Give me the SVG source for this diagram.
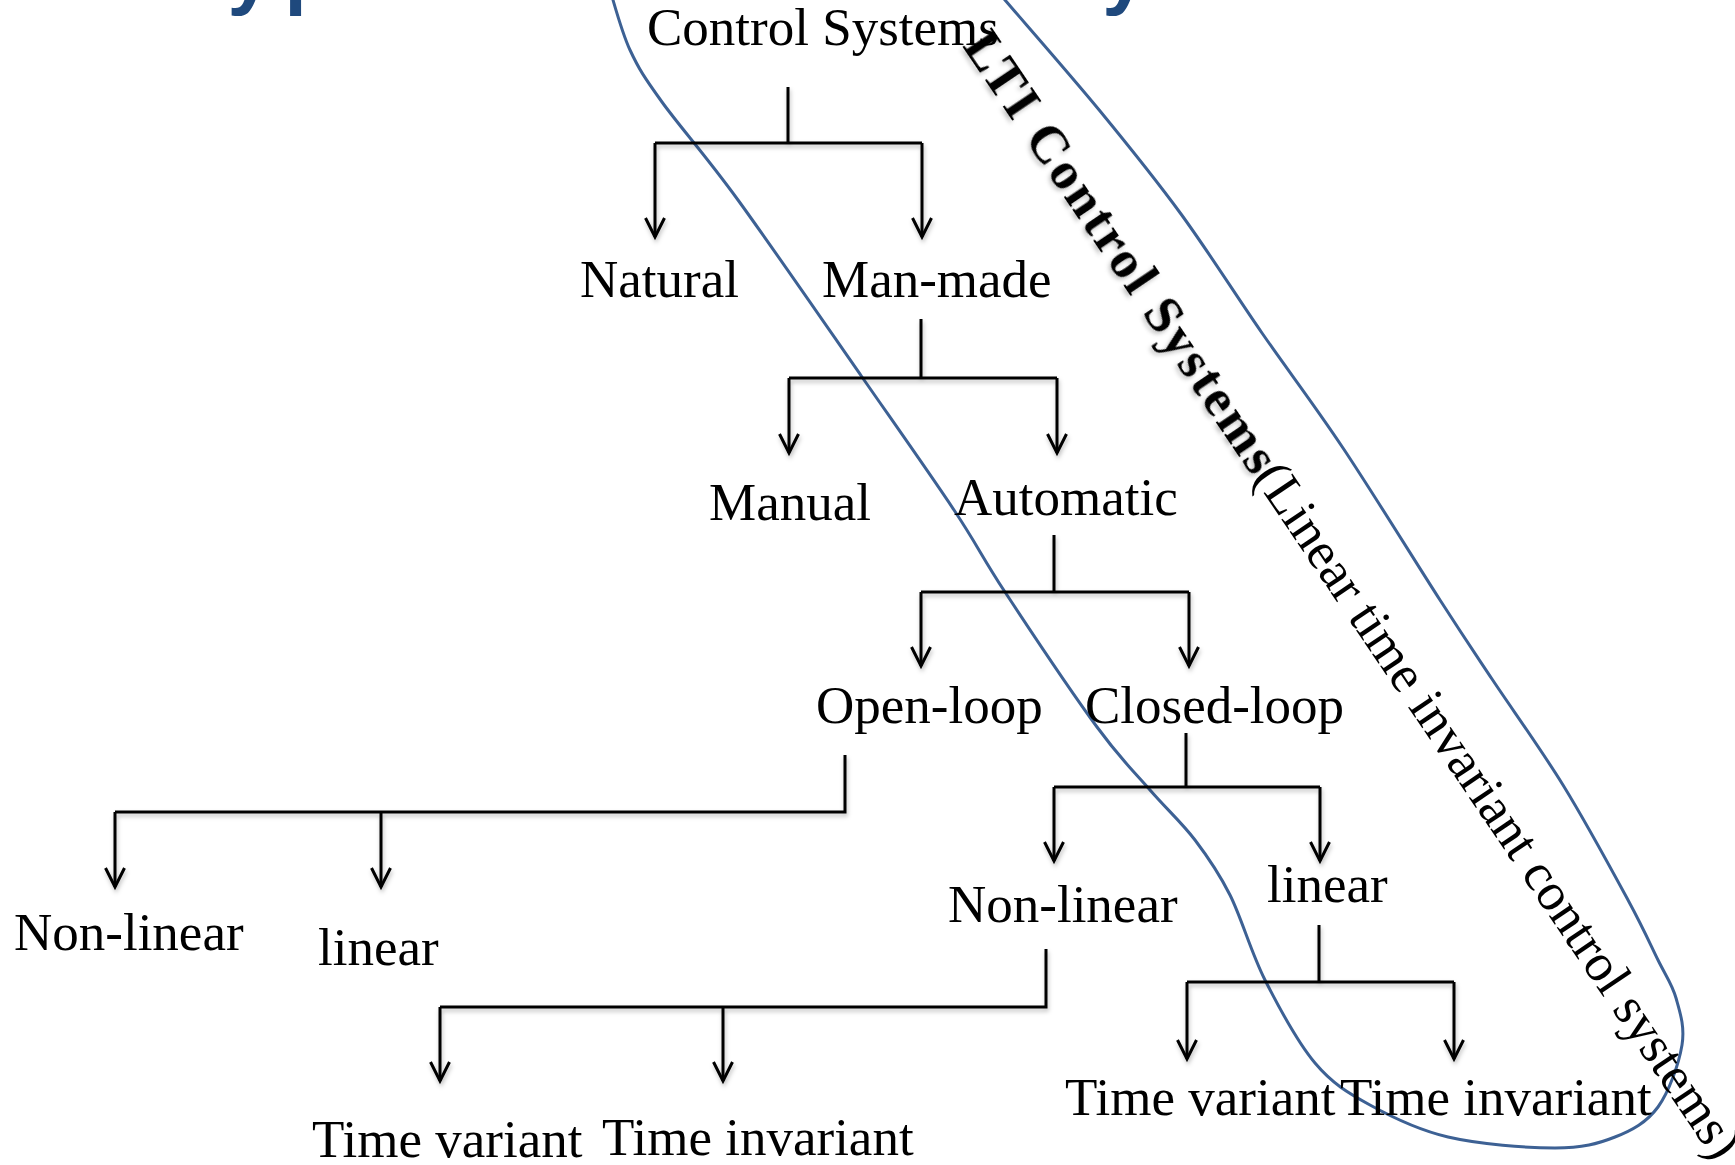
<svg xmlns="http://www.w3.org/2000/svg" width="1735" height="1165" viewBox="0 0 1735 1165">
<style>
.t{font-family:"Liberation Serif","Times New Roman",serif;font-size:53px;fill:#000}
.c{stroke:#000;stroke-width:3;fill:none}
.a{marker-end:url(#arr)}
.title{font-family:"Liberation Sans",Arial,sans-serif;font-weight:bold;font-size:80px;fill:#1f497d;letter-spacing:12.5px}
.loop{fill:none;stroke:#3d6194;stroke-width:3}
</style>
<defs>
<marker id="arr" markerUnits="userSpaceOnUse" viewBox="-25 -15 30 30" markerWidth="30" markerHeight="30" refX="0" refY="0" orient="auto" overflow="visible">
<path d="M-19,-9.5 L0,0 L-19,9.5" fill="none" stroke="#000" stroke-width="3"/>
</marker>
<filter id="sh" x="-10%" y="-10%" width="120%" height="130%">
<feDropShadow dx="1" dy="3" stdDeviation="2" flood-color="#000" flood-opacity="0.25"/>
</filter>
</defs>
<rect width="1735" height="1165" fill="#fff"/>
<text id="title" class="title" x="172" y="-1.5">Types of Control Systems</text>

<path id="lti-loop" class="loop" d="M610,-10 C613.3,0 621.3,31.3 630,50 C638.7,68.7 644,77 662,102 C680,127 704.7,154.2 738,200 C771.3,245.8 826,325.3 862,377 C898,428.7 930.2,474.2 954,510 C977.8,545.8 981.2,555.8 1005,592 C1028.8,628.2 1072.8,694 1097,727 C1121.2,760 1133.7,771.2 1150,790 C1166.3,808.8 1181.7,822.5 1195,840 C1208.3,857.5 1218.3,871.7 1230,895 C1241.7,918.3 1250.8,952 1265,980 C1279.2,1008 1297.5,1042.2 1315,1063 C1332.5,1083.8 1347.8,1092.7 1370,1105 C1392.2,1117.3 1417.2,1129.8 1448,1137 C1478.8,1144.2 1527.2,1148 1555,1148 C1582.8,1148 1597.8,1143.8 1615,1137 C1632.2,1130.2 1646.8,1122.3 1658,1107 C1669.2,1091.7 1679,1063.2 1682,1045 C1685,1026.8 1680,1012.2 1676,998 C1672,983.8 1666,976.3 1658,960 C1650,943.7 1643.8,929.2 1628,900 C1612.2,870.8 1585.7,821.8 1563,785 C1540.3,748.2 1512.5,709.8 1492,679 C1471.5,648.2 1464.8,638.5 1440,600 C1415.2,561.5 1372.7,492.5 1343,448 C1313.3,403.5 1289,372 1262,333 C1235,294 1208,251 1181,214 C1154,177 1129.3,146.7 1100,111 C1070.7,75.3 1022.5,20.5 1005,0 C987.5,-20.5 996.7,-10 995,-12"/>

<g id="lti-label" transform="translate(962,46) rotate(56)">
<text class="t" x="0" y="0" font-weight="bold" textLength="520" lengthAdjust="spacing" filter="url(#sh)">LTI Control Systems</text>
<text class="t" x="520" y="0" textLength="827" lengthAdjust="spacing">(Linear time invariant control systems)</text>
</g>

<g id="connectors" filter="url(#sh)">
<path class="c" d="M788,87 V143 M655,143 H922"/>
<path class="c a" d="M655,143 V237"/>
<path class="c a" d="M922,143 V237"/>
<path class="c" d="M921,319 V378 M789,378 H1057"/>
<path class="c a" d="M789,378 V453"/>
<path class="c a" d="M1057,378 V453"/>
<path class="c" d="M1054,535 V592 M921,592 H1189"/>
<path class="c a" d="M921,592 V666"/>
<path class="c a" d="M1189,592 V666"/>
<path class="c" d="M845,755 V812 H115"/>
<path class="c a" d="M115,812 V887"/>
<path class="c a" d="M381,812 V887"/>
<path class="c" d="M1186,733 V787 M1054,787 H1320"/>
<path class="c a" d="M1054,787 V861"/>
<path class="c a" d="M1320,787 V861"/>
<path class="c" d="M1046,949 V1007 H440"/>
<path class="c a" d="M440,1007 V1081"/>
<path class="c a" d="M723,1007 V1081"/>
<path class="c" d="M1319,925 V982 M1187,982 H1454"/>
<path class="c a" d="M1187,982 V1059"/>
<path class="c a" d="M1454,982 V1059"/>
</g>

<g id="n-control-systems"><text class="t" x="647" y="45">Control Systems</text></g>
<g id="n-natural"><text class="t" x="580" y="297">Natural</text></g>
<g id="n-man-made"><text class="t" x="822" y="297">Man-made</text></g>
<g id="n-manual"><text class="t" x="709" y="520">Manual</text></g>
<g id="n-automatic"><text class="t" x="954" y="515">Automatic</text></g>
<g id="n-open-loop"><text class="t" x="816" y="723">Open-loop</text></g>
<g id="n-closed-loop"><text class="t" x="1085" y="723">Closed-loop</text></g>
<g id="n-ol-nonlinear"><text class="t" x="14" y="950">Non-linear</text></g>
<g id="n-ol-linear"><text class="t" x="318" y="965">linear</text></g>
<g id="n-cl-nonlinear"><text class="t" x="948" y="922">Non-linear</text></g>
<g id="n-cl-linear"><text class="t" x="1267" y="902">linear</text></g>
<g id="n-nl-time-variant"><text class="t" x="312" y="1157">Time variant</text></g>
<g id="n-nl-time-invariant"><text class="t" x="602" y="1155">Time invariant</text></g>
<g id="n-l-time-variant"><text class="t" x="1065" y="1115">Time variant</text></g>
<g id="n-l-time-invariant"><text class="t" x="1340" y="1115">Time invariant</text></g>
</svg>
